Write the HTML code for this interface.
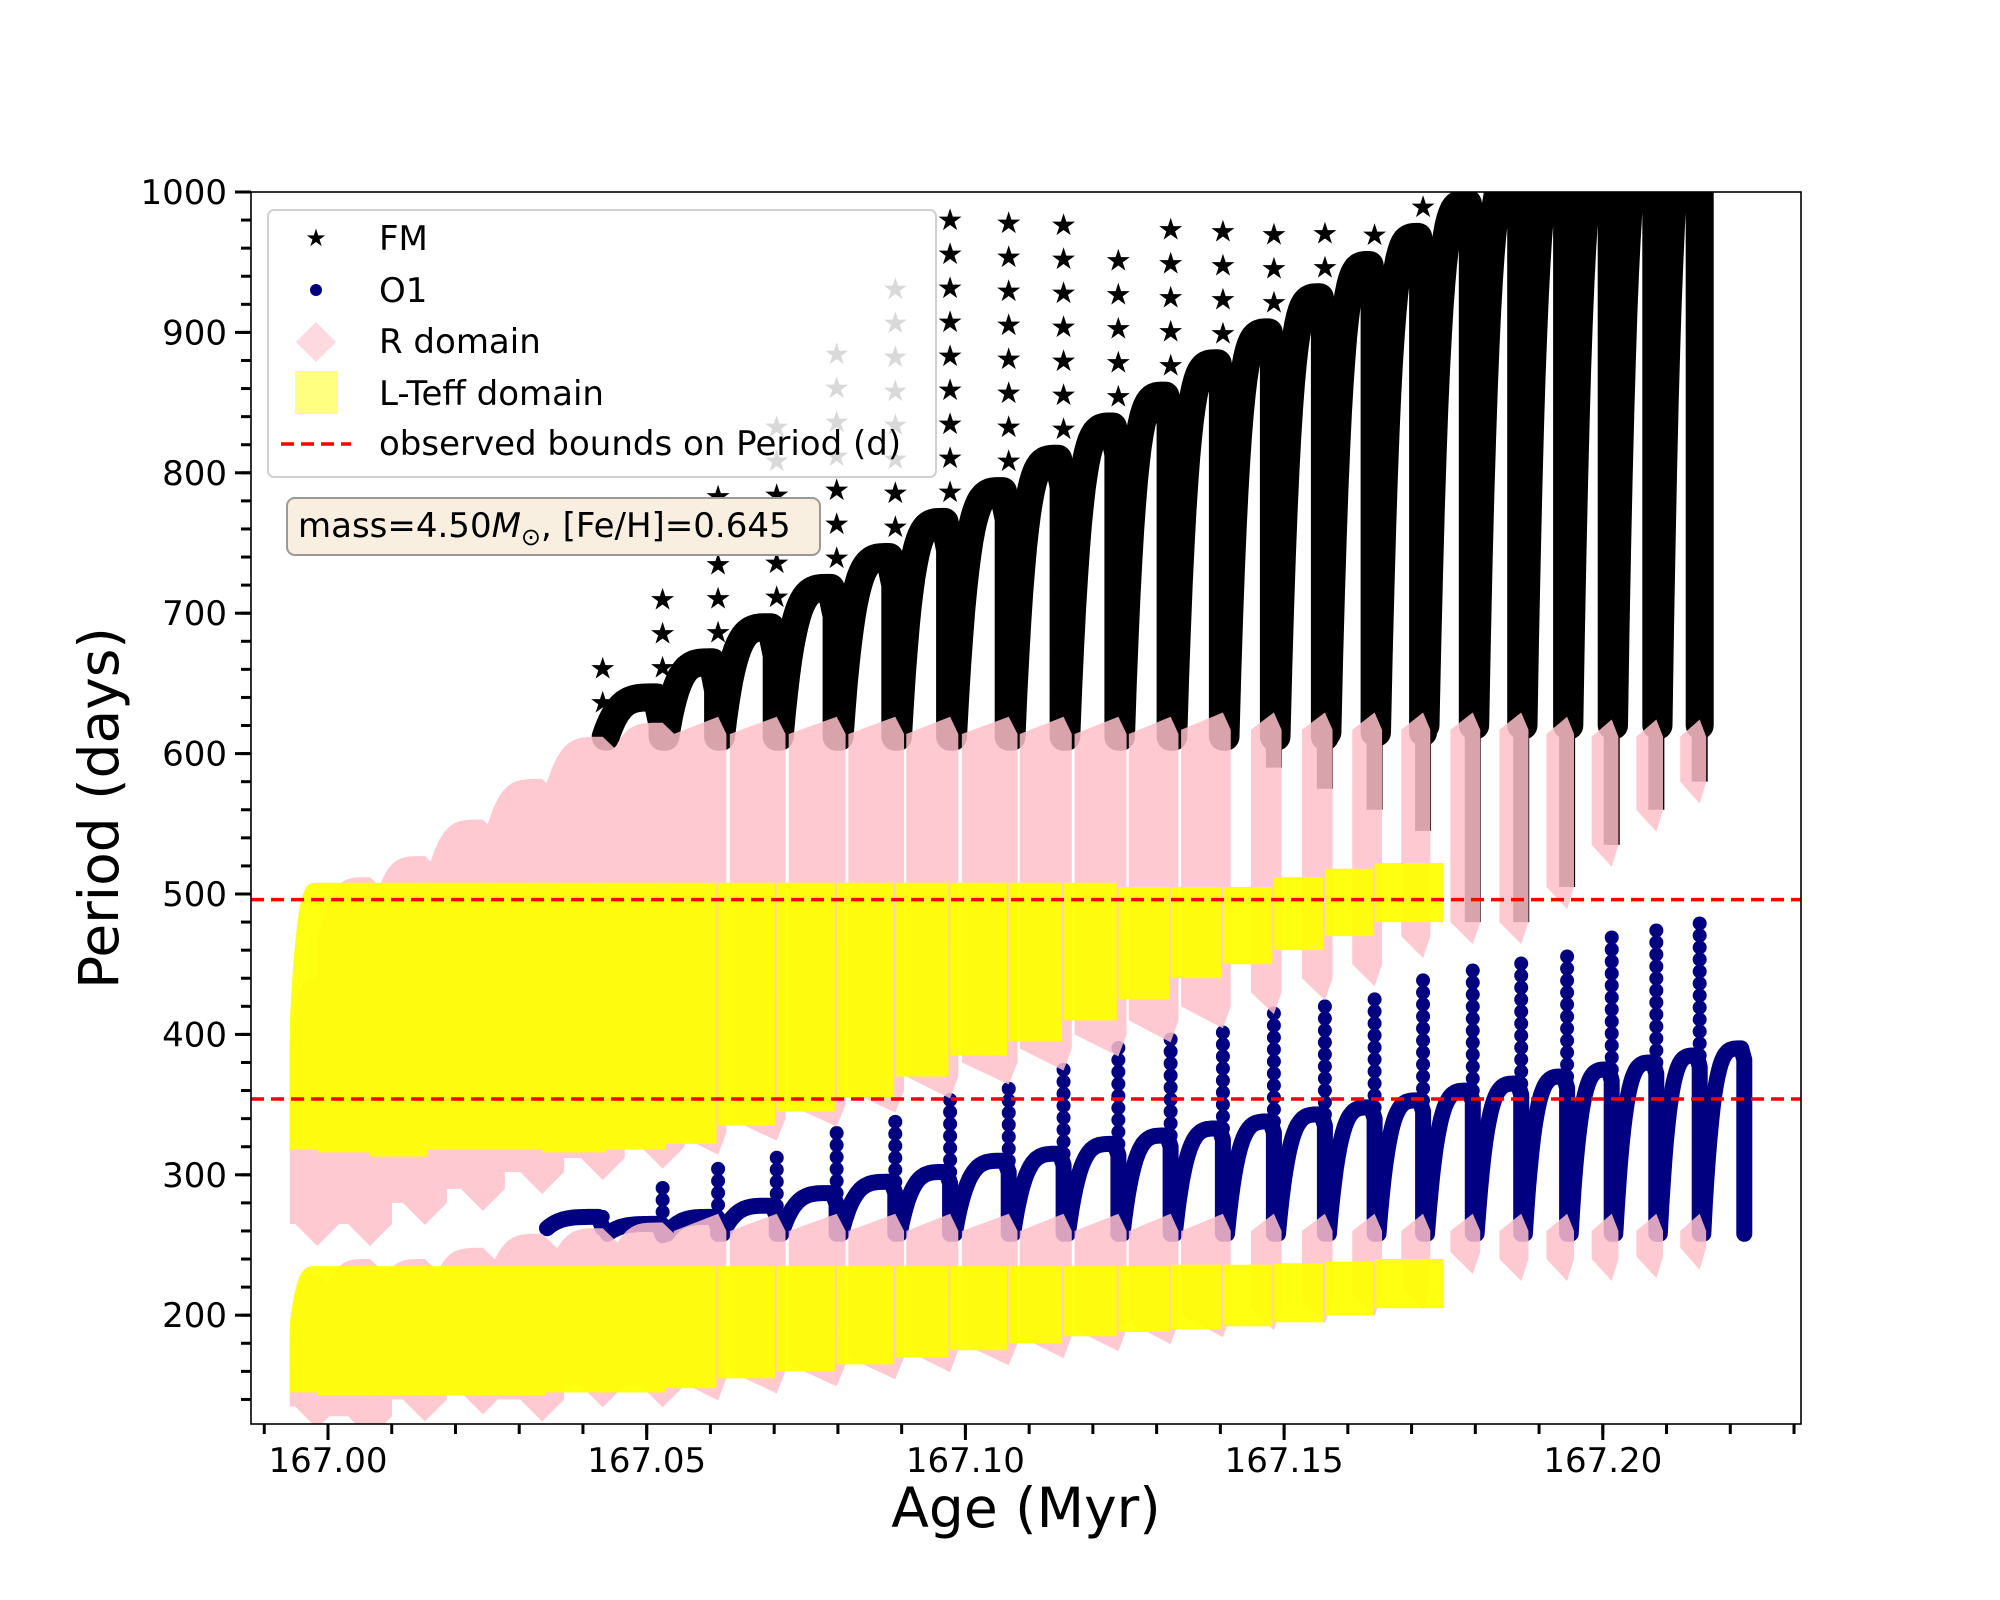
<!DOCTYPE html>
<html><head><meta charset="utf-8"><style>
html,body{margin:0;padding:0;background:#fff;}
svg{display:block;font-family:"DejaVu Sans","Liberation Sans",sans-serif;}
</style></head><body>
<svg id="chart" width="2000" height="1600" viewBox="0 0 2000 1600" xmlns="http://www.w3.org/2000/svg">
<defs><clipPath id="plotclip"><rect x="251" y="192" width="1550" height="1232"/></clipPath></defs>
<rect width="2000" height="1600" fill="#fff"/>
<g id="plot" clip-path="url(#plotclip)">
  <g id="fm"></g>
  <g id="o1"></g>
  <g id="pink" opacity="0.85"></g>
  <g id="yellow" opacity="0.93"></g>
  <g id="bounds"></g>
</g>
<rect x="251" y="192" width="1550" height="1232" fill="none" stroke="#000" stroke-width="1.6"/>
<g id="xticks"></g>
<g id="yticks"></g>
<text x="1026" y="1527" font-size="55" text-anchor="middle">Age (Myr)</text>
<text transform="translate(118,808) rotate(-90)" font-size="55" text-anchor="middle">Period (days)</text>
<g>
  <rect x="268" y="210" width="668" height="267" rx="6" fill="#fff" fill-opacity="0.85" stroke="#d0d0d0" stroke-width="2"/>
  <text x="316" y="246" font-size="24" text-anchor="middle">★</text>
  <text x="379" y="250" font-size="34">FM</text>
  <circle cx="316" cy="290" r="6" fill="#000080"/>
  <text x="379" y="302" font-size="34">O1</text>
  <polygon points="316,322 336,342 316,362 296,342" fill="#ffc0cb" fill-opacity="0.6"/>
  <text x="379" y="353" font-size="34">R domain</text>
  <rect x="295" y="371" width="43" height="43" fill="#ffff80"/>
  <text x="379" y="405" font-size="34">L-Teff domain</text>
  <line x1="281" y1="444" x2="351" y2="444" stroke="#ff0000" stroke-width="3.5" stroke-dasharray="13,7"/>
  <text x="379" y="455" font-size="34">observed bounds on Period (d)</text>
</g>
<g>
  <rect x="287" y="498" width="533" height="57" rx="8" fill="#f8efe0" stroke="#999" stroke-width="2"/>
  <text x="298" y="537" font-size="34">mass=4.50<tspan font-style="italic">M</tspan><tspan font-size="24" dy="8">⊙</tspan><tspan dy="-8">, [Fe/H]=0.645</tspan></text>
</g>
</svg>
<script>
const ends = [166.9983,167.0066,167.0152,167.0243,167.0336,167.0431,167.0525,167.0612,167.0704,167.0798,167.0890,167.0976,167.1068,167.1154,167.1240,167.1322,167.1404,167.1484,167.1564,167.1642,167.1718,167.1796,167.1872,167.1944,167.2014,167.2084,167.2152,167.2222];
const firstStart = 166.9940;
const fmPeak = [null,null,null,null,null,null,640,665,690,718,740,765,787,810,833,855,878,900,925,948,968,992,1015,1030,1040,1050,1060,null];
const fmBase = [null,null,null,null,null,615,612,612,612,612,612,612,612,612,612,612,612,612,612,615,615,620,620,620,620,620,620,null];
const fmLow = [null,null,null,null,null,615,612,612,612,612,612,612,612,612,612,612,612,590,575,560,545,480,480,505,535,560,580,null];
const fmSpike = [null,null,null,null,null,668,728,788,835,893,938,1000,992,996,965,992,978,990,988,975,1000,1000,null,null,null,null,null,null];
const o1Peak = [null,null,null,null,null,270,265,270,278,287,295,302,310,315,322,328,333,338,343,348,353,360,365,370,375,380,385,390];
const o1Base = [null,null,null,null,null,262,258,258,258,258,258,258,258,258,258,258,258,258,258,258,258,258,258,258,258,258,258,258];
const o1Spike = [null,null,null,null,null,272,290,306,318,333,345,358,368,378,390,398,408,415,425,432,440,448,455,462,470,477,485,null];
const pinkUTop = [440,512,527,553,582,612,622,622,622,622,622,622,622,622,622,622,625,625,625,625,625,625,625,622,620,620,620,null];
const pinkUBot = [265,265,280,290,302,312,320,330,340,350,360,370,380,390,400,410,420,430,440,450,470,480,480,505,535,560,580,null];
const pinkLTop = [230,240,240,248,258,262,266,268,268,268,268,268,268,268,268,268,268,268,268,268,268,268,268,268,268,268,268,null];
const pinkLBot = [135,128,140,145,140,150,150,155,160,165,170,175,180,185,190,195,200,205,210,215,220,245,240,240,240,242,248,null];
const yelUTop = [508,508,508,508,508,508,508,508,508,508,508,508,508,508,508,505,505,505,512,518,522];
const yelUBot = [318,316,313,318,318,316,318,322,335,345,355,370,385,395,410,425,440,450,460,470,480];
const yelLTop = [235,235,235,235,235,235,235,235,235,235,235,235,235,235,235,235,236,236,237,238,240];
const yelLBot = [145,143,143,143,143,145,145,148,155,160,165,170,175,180,185,188,190,192,195,200,205];
const bounds = [496,354];
const yTicks = [200,300,400,500,600,700,800,900,1000];
const xTicks = [167.00,167.05,167.10,167.15,167.20];
const xTickLabels = ["167.00","167.05","167.10","167.15","167.20"];

const NS = "http://www.w3.org/2000/svg";
function X(a){ return 328 + (a - 167.0) * 6374; }
function Y(p){ return 192 + (1000 - p) * 1.404; }
function shape(t){ return 1 - Math.pow(1 - t, 4); }
function mk(tag, parent, attrs){
  const el = document.createElementNS(NS, tag);
  for (const k in attrs) el.setAttribute(k, attrs[k]);
  parent.appendChild(el);
  return el;
}
function startOf(i){ return i === 0 ? firstStart : ends[i-1]; }

const gFm = document.getElementById('fm');
const gO1 = document.getElementById('o1');
const gPink = document.getElementById('pink');
const gYel = document.getElementById('yellow');
const gB = document.getElementById('bounds');

// FM series
for (let i = 0; i < ends.length; i++) {
  const s = startOf(i), e = ends[i];
  if (fmPeak[i] !== null) {
    let d = "";
    for (let k = 0; k <= 24; k++) {
      const t = k / 24;
      const a = s + (e - s) * 0.05 + (e - s) * 0.85 * t;
      const p = fmBase[i] + (fmPeak[i] - fmBase[i]) * shape(t);
      d += (k ? "L" : "M") + X(a).toFixed(1) + "," + Y(p).toFixed(1);
    }
    d += "L" + X(e).toFixed(1) + "," + Y(fmPeak[i] - 20).toFixed(1) + "L" + X(e).toFixed(1) + "," + Y(fmBase[i]).toFixed(1);
    const c = mk('path', gFm, {d: d, fill: 'none', stroke: '#000', 'stroke-width': 28, 'stroke-linejoin': 'round', 'stroke-linecap': 'round'});
    
    
    const low = mk('line', gFm, {x1: X(e), y1: Y(fmBase[i]), x2: X(e), y2: Y(fmLow[i]), stroke: '#000', 'stroke-width': 16});
    
    
  }
  if (fmSpike[i] !== null) {
    const ref = fmPeak[i] !== null ? fmPeak[i] : fmBase[i];
    const y0 = Y(ref), y1 = Y(fmSpike[i]);
    for (let y = y0 - 30; y >= y1 - 1; y -= 34) {
      const st = mk('text', gFm, {x: X(e), y: y + 10, 'font-size': 30, 'text-anchor': 'middle', fill: '#000'});
      st.textContent = '★';
      
      
    }
  }
}

// O1 series
for (let i = 0; i < ends.length; i++) {
  if (o1Peak[i] === null) continue;
  const s = startOf(i), e = ends[i];
  let d = "";
  for (let k = 0; k <= 24; k++) {
    const t = k / 24;
    const a = s + (e - s) * 0.08 + (e - s) * 0.85 * t;
    const p = o1Base[i] + (o1Peak[i] - o1Base[i]) * shape(t);
    d += (k ? "L" : "M") + X(a).toFixed(1) + "," + Y(p).toFixed(1);
  }
  d += "L" + X(e).toFixed(1) + "," + Y(o1Peak[i] - 8).toFixed(1) + "L" + X(e).toFixed(1) + "," + Y(o1Base[i]).toFixed(1);
  const c = mk('path', gO1, {d: d, fill: 'none', stroke: '#000080', 'stroke-width': 16, 'stroke-linejoin': 'round', 'stroke-linecap': 'round'});
  
  
  if (o1Spike[i] !== null) {
    const y0 = Y(o1Peak[i]), y1 = Y(o1Spike[i]);
    for (let y = y0; y >= y1 - 1; y -= 12) {
      const dot = mk('circle', gO1, {cx: X(e), cy: y, r: 7, fill: '#000080'});
      
      
    }
  }
}

// R domain (pink)
function pinkBand(i, top, bot, name) {
  const s = startOf(i), e = ends[i];
  let d;
  if (i <= 6) {
    d = "M" + X(s) + "," + Y(bot);
    for (let k = 0; k <= 12; k++) {
      const t = k / 12;
      const p = (top - 45) + 45 * shape(t);
      d += "L" + X(s + (e - s) * t).toFixed(1) + "," + Y(p).toFixed(1);
    }
    d += "L" + (X(e) + 22) + "," + Y(top - 15) + "L" + (X(e) + 22) + "," + Y(bot) + "L" + X(e) + "," + (Y(bot) + 22) + "L" + (X(e) - 22) + "," + Y(bot) + "Z";
  } else {
    const w = (e - s);
    const frac = i <= 16 ? 0.8 : 0.45;
    const xa = X(e - w * frac), xb = X(e + w * 0.15);
    const xm = X(e);
    d = "M" + xa + "," + Y(bot) + "L" + xa + "," + Y(top - 8) + "L" + xm + "," + (Y(top) - 6) + "L" + xb + "," + Y(top - 8) + "L" + xb + "," + Y(bot) + "L" + xm + "," + (Y(bot) + 22) + "Z";
  }
  const el = mk('path', gPink, {d: d, fill: '#ffc0cb'});
  
  
}
for (let i = 0; i < ends.length; i++) {
  if (pinkUTop[i] !== null) pinkBand(i, pinkUTop[i], pinkUBot[i], 'r-domain-upper-cycle');
  if (pinkLTop[i] !== null) pinkBand(i, pinkLTop[i], pinkLBot[i], 'r-domain-lower-cycle');
}

// L-Teff domain (yellow)
function yelBand(i, top, bot, startTop, name) {
  const s = startOf(i), e = ends[i];
  const w = e - s;
  const xe = i >= 7 ? e - w * 0.03 : e + w * 0.05;
  let d = "M" + X(s) + "," + Y(bot);
  for (let k = 0; k <= 12; k++) {
    const t = k / 12;
    const p = startTop + (top - startTop) * shape(t);
    d += "L" + X(s + (xe - s) * t).toFixed(1) + "," + Y(p).toFixed(1);
  }
  d += "L" + X(xe) + "," + Y(bot) + "Z";
  const el = mk('path', gYel, {d: d, fill: '#ffff00'});
  
  
}
for (let i = 0; i < yelUTop.length; i++) {
  yelBand(i, yelUTop[i], yelUBot[i], i === 0 ? 410 : yelUTop[i], 'lteff-domain-upper-cycle');
  yelBand(i, yelLTop[i], yelLBot[i], i === 0 ? 195 : yelLTop[i], 'lteff-domain-lower-cycle');
}
{
  const e = ends[yelUTop.length - 1];
  const ext = mk('rect', gYel, {x: X(e) - 30, y: Y(yelUTop[yelUTop.length-1]), width: 50, height: Y(yelUBot[yelUBot.length-1]) - Y(yelUTop[yelUTop.length-1]), fill: '#ffff00'});
  
  
  const ext2 = mk('rect', gYel, {x: X(e) - 30, y: Y(yelLTop[yelLTop.length-1]), width: 50, height: Y(yelLBot[yelLBot.length-1]) - Y(yelLTop[yelLTop.length-1]), fill: '#ffff00'});
  
  
}

bounds.forEach(function(b){
  const l = mk('line', gB, {x1: 251, x2: 1801, y1: Y(b), y2: Y(b), stroke: '#ff0000', 'stroke-width': 3.5, 'stroke-dasharray': '13,7'});
  
  
});

const gx = document.getElementById('xticks');
const gy = document.getElementById('yticks');
for (let v = 166.99; v <= 167.2305; v += 0.01) {
  const x = X(v);
  const t = mk('line', gx, {x1: x, x2: x, y1: 1424, y2: 1434, stroke: '#000', 'stroke-width': 3});
  
  
}
xTicks.forEach(function(v, i){
  const x = X(v);
  const t = mk('line', gx, {x1: x, x2: x, y1: 1424, y2: 1440, stroke: '#000', 'stroke-width': 3});
  
  
  const lb = mk('text', gx, {x: x, y: 1472, 'font-size': 34, 'text-anchor': 'middle'});
  lb.textContent = xTickLabels[i];
  
  
});
for (let v = 140; v <= 1000; v += 20) {
  const y = Y(v);
  const t = mk('line', gy, {x1: 241, x2: 251, y1: y, y2: y, stroke: '#000', 'stroke-width': 3});
  
  
}
yTicks.forEach(function(v){
  const y = Y(v);
  const t = mk('line', gy, {x1: 235, x2: 251, y1: y, y2: y, stroke: '#000', 'stroke-width': 3});
  
  
  const lb = mk('text', gy, {x: 227, y: y + 12, 'font-size': 34, 'text-anchor': 'end'});
  lb.textContent = String(v);
  
  
});
</script>
</body></html>
